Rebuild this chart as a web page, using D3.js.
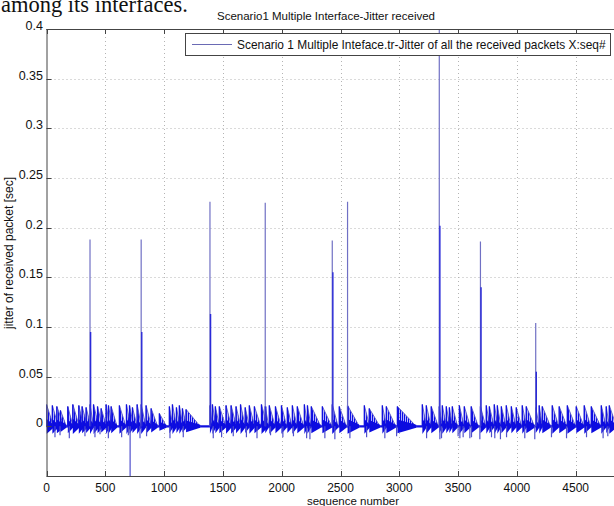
<!DOCTYPE html>
<html>
<head>
<meta charset="utf-8">
<script src="https://cdn.jsdelivr.net/npm/d3@7"></script>
<style>
  body { margin: 0; background: #fff; }
  svg { display: block; font-family: "Liberation Sans", Arial, sans-serif; }
</style>
</head>
<body>
<div id="chart"></div>
<script>
// tick values
const xTicks = [0, 500, 1000, 1500, 2000, 2500, 3000, 3500, 4000, 4500];
const yTicks = [0, 0.05, 0.1, 0.15, 0.2, 0.25, 0.3, 0.35, 0.4];

// sawtooth bursts: [seq#, peak jitter, decay length in seq#]
const teeth = [
  [0, 0.022, 60], [50, 0.021, 50], [88, 0.02, 60], [119, 0.016, 50], [181, 0.02, 45],
  [224, 0.022, 55], [275, 0.021, 40], [303, 0.02, 45], [337, 0.019, 40], [370, 0.022, 30],
  [400, 0.022, 45], [434, 0.02, 40], [465, 0.018, 45], [507, 0.022, 30], [527, 0.021, 30],
  [550, 0.02, 50], [620, 0.021, 55], [680, 0.022, 35], [706, 0.021, 35], [731, 0.019, 40],
  [771, 0.022, 35], [805, 0.022, 40], [847, 0.021, 45], [890, 0.018, 55], [960, 0.013, 60],
  [1045, 0.02, 30], [1071, 0.022, 35], [1105, 0.019, 30], [1130, 0.021, 30], [1156, 0.018, 35],
  [1187, 0.017, 120], [1390, 0.021, 20], [1411, 0.022, 30], [1436, 0.02, 35], [1470, 0.02, 55],
  [1527, 0.021, 45], [1570, 0.021, 45], [1612, 0.02, 40], [1650, 0.022, 40], [1690, 0.019, 35],
  [1725, 0.021, 45], [1768, 0.02, 55], [1828, 0.022, 50], [1860, 0.02, 30], [1895, 0.021, 50],
  [1947, 0.02, 50], [1998, 0.021, 45], [2048, 0.019, 40], [2091, 0.021, 40], [2133, 0.02, 55],
  [2193, 0.022, 28], [2219, 0.021, 30], [2252, 0.02, 80], [2346, 0.02, 80], [2430, 0.022, 50],
  [2490, 0.02, 60], [2560, 0.021, 100], [2703, 0.021, 45], [2745, 0.018, 90], [2856, 0.021, 35],
  [2890, 0.02, 80], [2984, 0.02, 160], [3196, 0.022, 35], [3230, 0.021, 40], [3272, 0.02, 60],
  [3340, 0.02, 25], [3366, 0.021, 35], [3400, 0.02, 30], [3426, 0.019, 25], [3451, 0.02, 45],
  [3511, 0.021, 40], [3553, 0.02, 50], [3612, 0.02, 60], [3690, 0.02, 45], [3740, 0.021, 30],
  [3766, 0.02, 40], [3808, 0.022, 30], [3834, 0.021, 30], [3868, 0.02, 40], [3910, 0.021, 40],
  [3953, 0.02, 40], [3995, 0.019, 45], [4046, 0.021, 35], [4080, 0.02, 70], [4160, 0.019, 30],
  [4190, 0.021, 25], [4216, 0.02, 70], [4301, 0.021, 55], [4360, 0.02, 65], [4429, 0.021, 70],
  [4505, 0.02, 65], [4573, 0.021, 55], [4633, 0.02, 80], [4718, 0.021, 40], [4760, 0.02, 25],
  [4786, 0.021, 60]
];

// isolated large spikes: [seq#, peak, value of the neighbouring packet]
const spikes = [
  [370, 0.188, 0.095], [805, 0.188, 0.095], [1390, 0.226, 0.113], [1860, 0.225, 0.02],
  [2430, 0.187, 0.155], [2560, 0.226, 0.02], [3340, 0.40, 0.202], [3690, 0.186, 0.14],
  [4160, 0.104, 0.055]
];

// negative jitter values: [seq#, value]
const dips = [
  [72, -0.011], [115, -0.009], [194, -0.012], [327, -0.01], [412, -0.011], [455, -0.008],
  [526, -0.012], [639, -0.011], [696, -0.009], [711, -0.07], [795, -0.012], [851, -0.01],
  [1050, -0.012], [1163, -0.011], [1418, -0.012], [1489, -0.011], [1588, -0.01], [1700, -0.011],
  [1790, -0.012], [1905, -0.009], [2010, -0.011], [2100, -0.01], [2212, -0.012], [2240, -0.013],
  [2367, -0.012], [2452, -0.013], [2580, -0.012], [2722, -0.011], [2877, -0.012], [2977, -0.01],
  [3232, -0.012], [3345, -0.013], [3359, -0.012], [3515, -0.012], [3614, -0.011], [3685, -0.013],
  [3784, -0.011], [3500, -0.01], [3543, -0.011], [3600, -0.012], [3812, -0.012], [3860, -0.013],
  [3912, -0.011], [4067, -0.012], [4152, -0.013], [4294, -0.011], [4422, -0.012], [4592, -0.011],
  [4733, -0.012], [4773, -0.01]
];

const W = 614, H = 506;
const plot = {left: 46.5, top: 29, right: 634.5, bottom: 476};

const svg = d3.select("#chart").append("svg")
  .attr("width", W)
  .attr("height", H);

svg.append("rect").attr("width", W).attr("height", H).attr("fill", "#fff");

// fragment of the surrounding paper text
svg.append("text")
  .attr("x", 1).attr("y", 12)
  .style("font-family", "'Liberation Serif', 'Times New Roman', serif")
  .style("font-size", "22.5px")
  .attr("fill", "#111")
  .text("among its interfaces.");

const x = d3.scaleLinear().domain([0, 5000]).range([plot.left, plot.right]);
const y = d3.scaleLinear().domain([-0.05, 0.4]).range([plot.bottom, plot.top]);

const defs = svg.append("defs");
defs.append("clipPath").attr("id", "clip")
  .append("rect")
  .attr("x", plot.left).attr("y", plot.top)
  .attr("width", plot.right - plot.left).attr("height", plot.bottom - plot.top);
const pat = defs.append("pattern").attr("id", "hatch")
  .attr("patternUnits", "userSpaceOnUse")
  .attr("width", 2).attr("height", 8);
pat.append("rect").attr("width", 1.3).attr("height", 8).attr("fill", "#0c0ce8");

// grid
const grid = svg.append("g").attr("class", "grid")
  .attr("stroke", "#b4b4b4").attr("stroke-dasharray", "1,3").attr("stroke-width", 1);
grid.selectAll(".gx").data(xTicks.filter(d => d > 0))
  .enter().append("line")
  .attr("x1", d => Math.round(x(d)) + 0.5).attr("x2", d => Math.round(x(d)) + 0.5)
  .attr("y1", plot.top).attr("y2", plot.bottom);
grid.selectAll(".gy").data(yTicks.filter(d => d > 0 && d < 0.4))
  .enter().append("line")
  .attr("x1", plot.left).attr("x2", plot.right)
  .attr("y1", d => Math.round(y(d)) + 0.5).attr("y2", d => Math.round(y(d)) + 0.5);

const data = svg.append("g").attr("clip-path", "url(#clip)");

// baseline
data.append("line")
  .attr("x1", x(0)).attr("x2", x(4900))
  .attr("y1", y(0)).attr("y2", y(0))
  .attr("stroke", "#1010e0").attr("stroke-width", 2.2);

// sawtooth bursts
const tooth = d3.area()
  .x(d => x(d[0]))
  .y0(y(0))
  .y1(d => y(d[1]));
data.selectAll(".tooth").data(teeth)
  .enter().append("path")
  .attr("class", "tooth")
  .attr("d", d => tooth([[d[0], d[1]], [d[0] + d[2], 0]]))
  .attr("fill", "url(#hatch)")
  .attr("stroke", "#5a5ac4")
  .attr("stroke-width", 0.9);

const core = d3.area()
  .x(d => x(d[0]))
  .y0(d => y(-d[1]))
  .y1(d => y(d[1]));
data.selectAll(".core").data(teeth)
  .enter().append("path")
  .attr("class", "core")
  .attr("d", d => core([[d[0], d[1] * 0.35], [d[0] + d[2], 0.0015]]))
  .attr("fill", "#0c0ce0");

data.selectAll(".edge").data(teeth)
  .enter().append("line")
  .attr("class", "edge")
  .attr("x1", d => x(d[0])).attr("x2", d => x(d[0]))
  .attr("y1", y(0)).attr("y2", d => y(d[1]))
  .attr("stroke", "#1010e0").attr("stroke-width", 1.3);

// negative values
data.selectAll(".dip").data(dips)
  .enter().append("line")
  .attr("class", "dip")
  .attr("x1", d => x(d[0])).attr("x2", d => x(d[0]))
  .attr("y1", y(0)).attr("y2", d => y(d[1]))
  .attr("stroke", "#5050cc").attr("stroke-width", 1.2);

// large spikes
data.selectAll(".spike").data(spikes)
  .enter().append("line")
  .attr("class", "spike")
  .attr("x1", d => x(d[0])).attr("x2", d => x(d[0]))
  .attr("y1", y(0)).attr("y2", d => y(d[1]))
  .attr("stroke", "#7070c4").attr("stroke-width", 1.2);
data.selectAll(".spikemid").data(spikes)
  .enter().append("line")
  .attr("class", "spikemid")
  .attr("x1", d => x(d[0]) + 0.6).attr("x2", d => x(d[0]) + 0.6)
  .attr("y1", y(0)).attr("y2", d => y(d[2]))
  .attr("stroke", "#2a2ad8").attr("stroke-width", 1.4);

// axes box and inward ticks
const axis = svg.append("g").attr("stroke", "#444").attr("stroke-width", 1);
axis.append("line")
  .attr("x1", plot.left).attr("x2", plot.right)
  .attr("y1", plot.top + 0.5).attr("y2", plot.top + 0.5);
axis.append("line")
  .attr("x1", plot.left).attr("x2", plot.right)
  .attr("y1", plot.bottom + 0.5).attr("y2", plot.bottom + 0.5);
axis.append("line")
  .attr("x1", plot.left + 0.5).attr("x2", plot.left + 0.5)
  .attr("y1", plot.top).attr("y2", plot.bottom + 0.5);
axis.selectAll(".tb").data(xTicks)
  .enter().append("line")
  .attr("x1", d => Math.round(x(d)) + 0.5).attr("x2", d => Math.round(x(d)) + 0.5)
  .attr("y1", plot.bottom).attr("y2", plot.bottom - 5);
axis.selectAll(".tt").data(xTicks)
  .enter().append("line")
  .attr("x1", d => Math.round(x(d)) + 0.5).attr("x2", d => Math.round(x(d)) + 0.5)
  .attr("y1", plot.top).attr("y2", plot.top + 5);
axis.selectAll(".tl").data(yTicks)
  .enter().append("line")
  .attr("x1", plot.left).attr("x2", plot.left + 5)
  .attr("y1", d => Math.round(y(d)) + 0.5).attr("y2", d => Math.round(y(d)) + 0.5);

// tick labels
svg.selectAll(".xl").data(xTicks)
  .enter().append("text")
  .attr("x", d => x(d)).attr("y", 492)
  .attr("text-anchor", "middle")
  .style("font-size", "12px").attr("fill", "#111")
  .text(d => d);
svg.selectAll(".yl").data(yTicks)
  .enter().append("text")
  .attr("x", 43).attr("y", d => y(d) + 1)
  .attr("text-anchor", "end")
  .style("font-size", "12.5px").attr("fill", "#111")
  .text(d => d3.format("~g")(d));

svg.append("text")
  .attr("x", 353).attr("y", 505)
  .attr("text-anchor", "middle")
  .style("font-size", "11.5px").attr("fill", "#111")
  .text("sequence number");

svg.append("text")
  .attr("transform", "translate(13,253) rotate(-90)")
  .attr("text-anchor", "middle")
  .style("font-size", "12px").attr("fill", "#111")
  .text("jitter of received packet [sec]");

svg.append("text")
  .attr("x", 326).attr("y", 20)
  .attr("text-anchor", "middle")
  .style("font-size", "11.5px").attr("fill", "#111")
  .text("Scenario1 Multiple Interface-Jitter received");

// legend
const leg = svg.append("g");
leg.append("rect")
  .attr("x", 185.5).attr("y", 33.5).attr("width", 425).attr("height", 22)
  .attr("fill", "#fff").attr("stroke", "#444");
leg.append("line")
  .attr("x1", 192).attr("x2", 232).attr("y1", 44.5).attr("y2", 44.5)
  .attr("stroke", "#6a6ab4").attr("stroke-width", 1.2);
const lt = leg.append("text")
  .attr("x", 237).attr("y", 49)
  .style("font-size", "12px").attr("fill", "#111")
  .text("Scenario 1 Multiple Inteface.tr-Jitter of all the received packets X:seq#");
const w = lt.node().getComputedTextLength();
lt.style("font-size", (12 * 369 / w) + "px");
</script>
</body>
</html>
